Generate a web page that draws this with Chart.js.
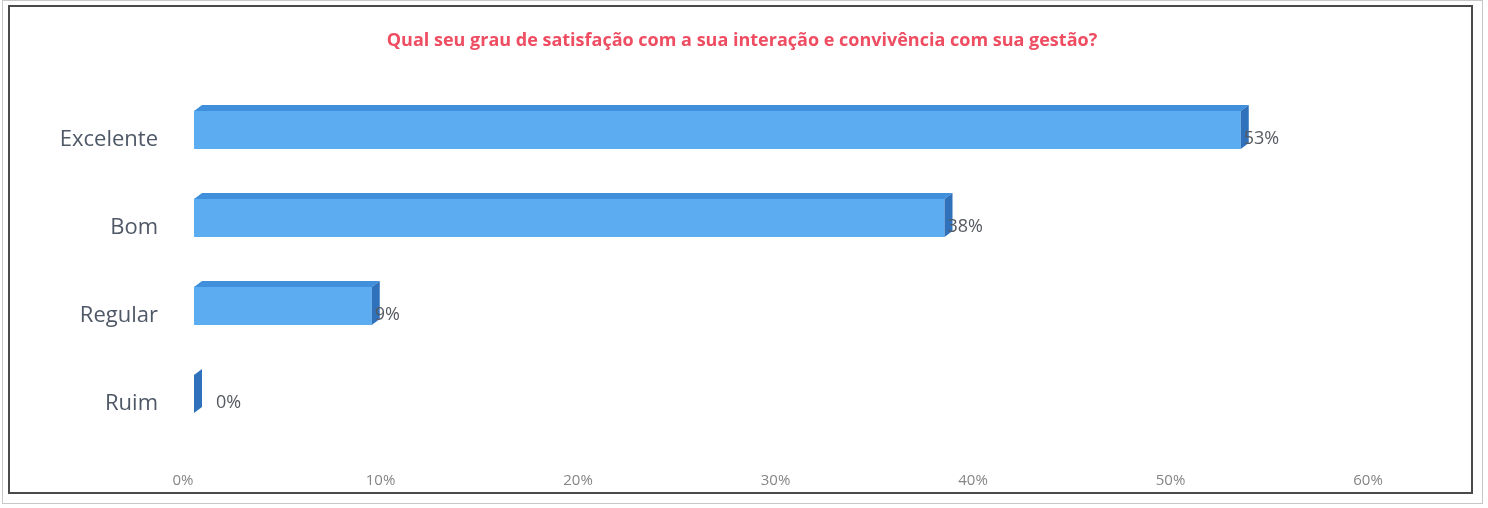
<!DOCTYPE html>
<html>
<head>
<meta charset="utf-8">
<script src="https://cdn.jsdelivr.net/npm/chart.js@4"></script>
<style>
  html, body { margin: 0; padding: 0; background: #fff; }
  #wrap { position: relative; width: 1488px; height: 508px; }
</style>
</head>
<body>
<div id="wrap"><canvas id="chart" width="1488" height="508"></canvas></div>
<script>
const categories = ['Excelente', 'Bom', 'Regular', 'Ruim'];
const percentValues = [53, 38, 9, 0];
const tickValues = [0, 10, 20, 30, 40, 50, 60];
const chartTitle = 'Qual seu grau de satisfação com a sua interação e convivência com sua gestão?';

// frame around the whole picture + title centred on the page
const framePlugin = {
  id: 'frame',
  beforeDraw(chart) {
    const ctx = chart.ctx;
    ctx.save();
    ctx.strokeStyle = '#c8c8c8';
    ctx.lineWidth = 1;
    ctx.strokeRect(2.5, 0.5, 1480, 503);
    ctx.strokeStyle = '#4a4a4a';
    ctx.lineWidth = 2;
    ctx.strokeRect(9, 6, 1463, 487);
    ctx.fillStyle = '#ee4d62';
    ctx.font = 'bold 18px "Open Sans", sans-serif';
    ctx.textAlign = 'center';
    ctx.textBaseline = 'middle';
    ctx.fillText(chartTitle, 742, 41);
    ctx.restore();
  }
};

// fake 3D: top face, side face and value labels
const bar3dPlugin = {
  id: 'bar3d',
  afterDatasetsDraw(chart) {
    const ctx = chart.ctx;
    const meta = chart.getDatasetMeta(0);
    const dx = 8, dy = 6;
    ctx.save();
    meta.data.forEach((bar, i) => {
      const p = bar.getProps(['x', 'y', 'base', 'height'], true);
      const top = p.y - p.height / 2;
      const bottom = p.y + p.height / 2;
      // top face
      ctx.fillStyle = '#3f8fdc';
      ctx.beginPath();
      ctx.moveTo(p.base, top);
      ctx.lineTo(p.base + dx, top - dy);
      ctx.lineTo(p.x + dx, top - dy);
      ctx.lineTo(p.x, top);
      ctx.closePath();
      ctx.fill();
      // side face
      ctx.fillStyle = '#2f72bb';
      ctx.beginPath();
      ctx.moveTo(p.x, top);
      ctx.lineTo(p.x + dx, top - dy);
      ctx.lineTo(p.x + dx, bottom - dy);
      ctx.lineTo(p.x, bottom);
      ctx.closePath();
      ctx.fill();
      // value label
      ctx.fillStyle = '#555a60';
      ctx.font = '18px "Open Sans", sans-serif';
      ctx.textAlign = 'left';
      ctx.textBaseline = 'middle';
      ctx.fillText(percentValues[i] + '%', p.x + (percentValues[i] === 0 ? 22 : 3), p.y + 9);
    });
    ctx.restore();
  }
};

new Chart(document.getElementById('chart'), {
  type: 'bar',
  data: {
    labels: categories,
    datasets: [{
      data: percentValues,
      backgroundColor: '#5cacf1',
      borderWidth: 0,
      barPercentage: 0.86,
      categoryPercentage: 0.5
    }]
  },
  options: {
    indexAxis: 'y',
    responsive: false,
    animation: false,
    layout: { padding: { left: 0, right: 109, top: 86, bottom: 0 } },
    plugins: {
      legend: { display: false },
      tooltip: { enabled: false },
      title: { display: false }
    },
    scales: {
      x: {
        min: 0,
        max: 60,
        afterFit(s) { s.height = 70; },
        afterBuildTicks(s) { s.ticks = tickValues.map(v => ({ value: v })); },
        grid: { display: false },
        border: { display: false },
        ticks: {
          padding: 26,
          labelOffset: -11,
          color: '#858585',
          font: { family: '"Open Sans", sans-serif', size: 15 },
          callback: v => v + '%'
        }
      },
      y: {
        afterFit(s) { s.width = 194; },
        grid: { display: false },
        border: { display: false },
        ticks: {
          padding: 28,
          labelOffset: 10,
          color: '#4f5866',
          font: { family: '"Open Sans", sans-serif', size: 22 }
        }
      }
    }
  },
  plugins: [framePlugin, bar3dPlugin]
});
</script>
</body>
</html>
